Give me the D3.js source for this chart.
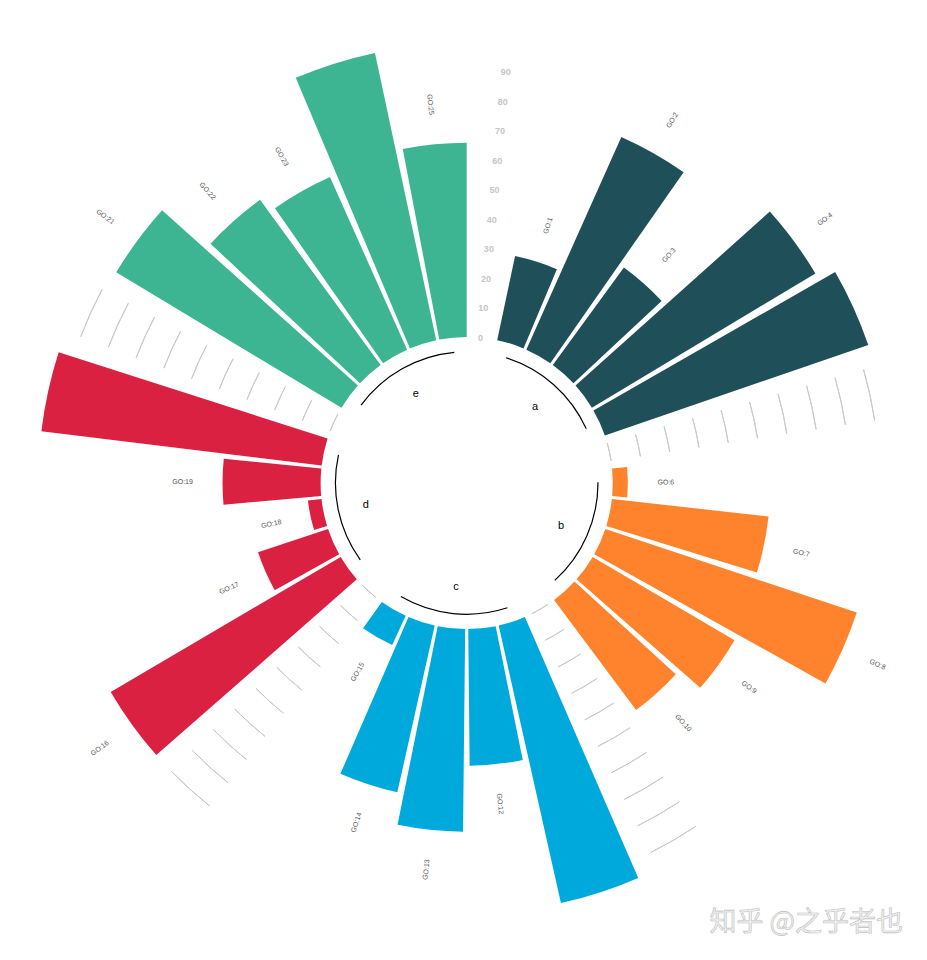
<!DOCTYPE html>
<html>
<head>
<meta charset="utf-8">
<script src="https://cdn.jsdelivr.net/npm/d3@7"></script>
<style>
  body { margin: 0; background: #fff; }
  svg { display: block; font-family: "Liberation Sans", Arial, sans-serif; }
</style>
</head>
<body>
<svg id="chart" width="927" height="960"></svg>
<script>
// groups and their colours
var groups = ['a', 'b', 'c', 'd', 'e'];
var groupColors = ['#1f4f59', '#ff822d', '#00a9db', '#db2142', '#3db593'];

// bar names, five per group
var names = [
    ['GO:1', 'GO:2', 'GO:3', 'GO:4', 'GO:5'],
    ['GO:6', 'GO:7', 'GO:8', 'GO:9', 'GO:10'],
    ['GO:11', 'GO:12', 'GO:13', 'GO:14', 'GO:15'],
    ['GO:16', 'GO:17', 'GO:18', 'GO:19', 'GO:20'],
    ['GO:21', 'GO:22', 'GO:23', 'GO:24', 'GO:25']
];

// values
var valuesA = [29, 78.6, 40.7, 88, 94];
var valuesB = [5.1, 53.2, 89.4, 55.5, 46.3];
var valuesC = [96, 46.1, 68.4, 57.7, 10.9];
var valuesD = [90, 24.9, 4.6, 33.1, 95.3];
var valuesE = [88.7, 69, 63.8, 99.1, 65.5];
var values = [valuesA, valuesB, valuesC, valuesD, valuesE];

// radial axis ticks
var ticks = [0, 10, 20, 30, 40, 50, 60, 70, 80, 90];

var yMax = 100;      // labels beyond this are dropped
var emptyBar = 1;    // empty slots at the start of each group

// build rows: one empty slot then the bars of each group
var rows = [];
var empties = [];
var id = 0;
groups.forEach(function(g, gi) {
    for (var e = 0; e < emptyBar; e++) {
        id++;
        empties.push({ id: id, group: gi });
    }
    names[gi].forEach(function(n, k) {
        id++;
        rows.push({ id: id, name: n, value: values[gi][k], group: gi });
    });
});
var nSlots = id;

var svg = d3.select('#chart');
var cx = 466.7, cy = 483;
var g = svg.append('g').attr('transform', 'translate(' + cx + ',' + cy + ')');

var x = d3.scaleLinear()
    .domain([0.55, nSlots + 0.45])
    .range([0, 2 * Math.PI]);

var y = d3.scaleLinear()
    .domain([-49.3, 100])
    .range([0, 442.4]);

function deg(a) { return a * 180 / Math.PI; }

// grid segments in the gaps between groups (not the first gap)
var gridData = [];
empties.forEach(function(e) {
    if (e.group === 0) return;
    ticks.forEach(function(t) {
        gridData.push({ id: e.id, t: t });
    });
});

g.selectAll('path.grid')
    .data(gridData)
    .enter()
    .append('path')
    .attr('class', 'grid')
    .attr('d', function(d) {
        return d3.arc()
            .innerRadius(y(d.t))
            .outerRadius(y(d.t))
            .startAngle(x(d.id - 0.3))
            .endAngle(x(d.id + 0.3))();
    })
    .attr('fill', 'none')
    .attr('stroke', '#c9c9c9')
    .attr('stroke-width', 1);

// tick labels in the first gap
g.selectAll('text.tick')
    .data(ticks)
    .enter()
    .append('text')
    .attr('class', 'tick')
    .attr('x', function(d) { return y(d) * Math.sin(x(1)); })
    .attr('y', function(d) { return -y(d) * Math.cos(x(1)); })
    .attr('text-anchor', 'middle')
    .attr('dominant-baseline', 'central')
    .attr('font-size', 9)
    .attr('font-weight', 'bold')
    .attr('fill', '#c6c6c6')
    .text(function(d) { return d; });

// bars
g.selectAll('path.bar')
    .data(rows)
    .enter()
    .append('path')
    .attr('class', 'bar')
    .attr('d', function(d) {
        return d3.arc()
            .innerRadius(y(0))
            .outerRadius(y(d.value))
            .startAngle(x(d.id - 0.45))
            .endAngle(x(d.id + 0.45))();
    })
    .attr('fill', function(d) { return groupColors[d.group]; });

// bar labels
g.selectAll('text.lab')
    .data(rows.filter(function(d) { return d.value + 10 <= yMax; }))
    .enter()
    .append('text')
    .attr('class', 'lab')
    .attr('transform', function(d) {
        var a = x(d.id);
        var r = y(d.value + 10);
        var px = r * Math.sin(a), py = -r * Math.cos(a);
        var rot = deg(a) < 180 ? deg(a) - 90 : deg(a) + 90;
        return 'translate(' + px + ',' + py + ') rotate(' + rot + ')';
    })
    .attr('text-anchor', function(d) { return deg(x(d.id)) < 180 ? 'start' : 'end'; })
    .attr('dominant-baseline', 'central')
    .attr('font-size', 7)
    .attr('fill', '#555')
    .text(function(d) { return d.name; });

// group base lines
var base = groups.map(function(gname, gi) {
    var ids = rows.filter(function(r) { return r.group === gi; }).map(function(r) { return r.id; });
    return { name: gname, start: d3.min(ids), end: d3.max(ids) };
});

g.selectAll('path.base')
    .data(base)
    .enter()
    .append('path')
    .attr('class', 'base')
    .attr('d', function(d) {
        return d3.arc()
            .innerRadius(y(-5))
            .outerRadius(y(-5))
            .startAngle(x(d.start))
            .endAngle(x(d.end))();
    })
    .attr('fill', 'none')
    .attr('stroke', '#000')
    .attr('stroke-width', 1.2);

g.selectAll('text.group')
    .data(base)
    .enter()
    .append('text')
    .attr('class', 'group')
    .attr('x', function(d) { return y(-14.5) * Math.sin(x((d.start + d.end) / 2)); })
    .attr('y', function(d) { return -y(-14.5) * Math.cos(x((d.start + d.end) / 2)); })
    .attr('text-anchor', 'middle')
    .attr('dominant-baseline', 'central')
    .attr('font-size', 11)
    .attr('fill', '#000')
    .text(function(d) { return d.name; });

// watermark
svg.append('text')
    .attr('x', 903)
    .attr('y', 931)
    .attr('text-anchor', 'end')
    .attr('font-family', '"Noto Sans CJK SC", sans-serif')
    .attr('font-size', 27)
    .attr('fill', '#f2f2f2')
    .attr('stroke', '#bdbdbd')
    .attr('stroke-width', 0.6)
    .text('知乎 @之乎者也');
</script>
</body>
</html>
